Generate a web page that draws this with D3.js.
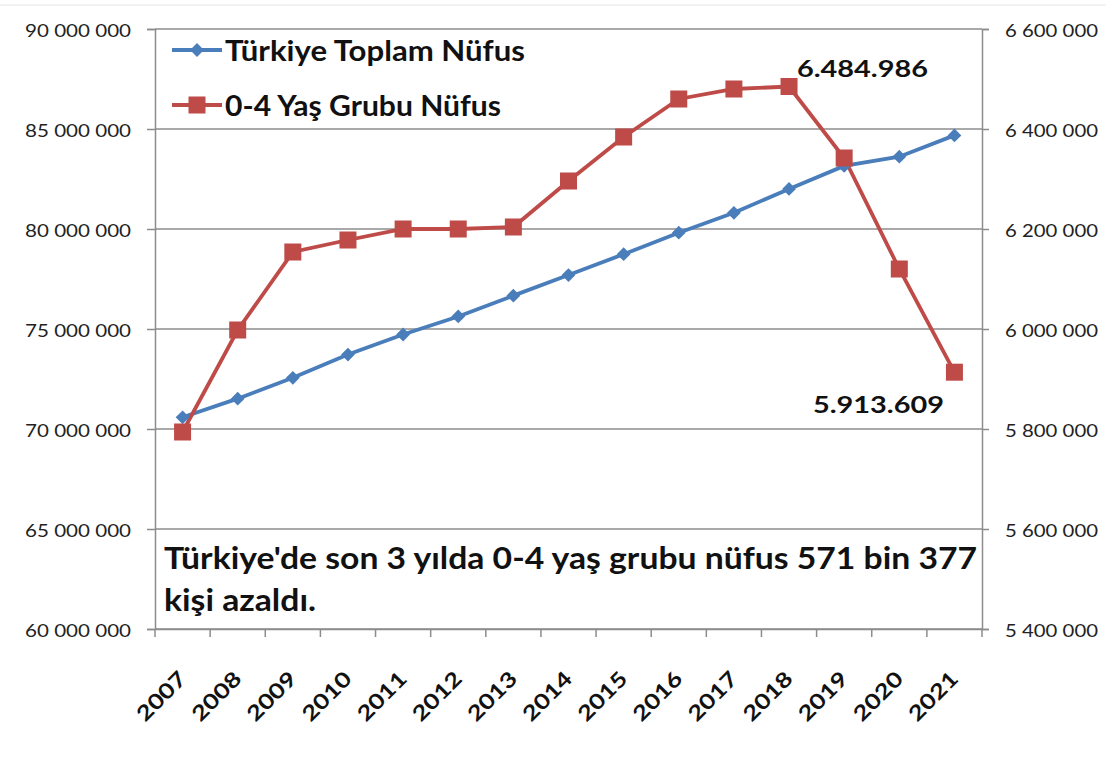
<!DOCTYPE html>
<html>
<head>
<meta charset="utf-8">
<script src="https://cdn.jsdelivr.net/npm/d3@7"></script>
<style>
  body { margin: 0; background: #fff; }
  svg { display: block; }
</style>
</head>
<body>
<div id="chart"></div>
<script>
// --- DATA ---
const years = ["2007","2008","2009","2010","2011","2012","2013","2014","2015","2016","2017","2018","2019","2020","2021"];
const totalPop = [70586256, 71517100, 72561312, 73722988, 74724269, 75627384, 76667864, 77695904, 78741053, 79814871, 80810525, 82003882, 83154997, 83614362, 84680273];
const childPop = [5794000, 5998000, 6154000, 6178000, 6200000, 6200000, 6204000, 6296000, 6384000, 6460000, 6480000, 6484986, 6342000, 6120000, 5913609];
const leftTicks = [60000000, 65000000, 70000000, 75000000, 80000000, 85000000, 90000000];
const rightTicks = [5400000, 5600000, 5800000, 6000000, 6200000, 6400000, 6600000];
const seriesNames = ["Türkiye Toplam Nüfus", "0-4 Yaş Grubu Nüfus"];

// --- CONFIG ---
const WIDTH = 1106, HEIGHT = 767;
const MARGIN = { top: 29, right: 124, bottom: 138, left: 155 };
const BLUE = "#4a7ebb", RED = "#be4b48";
const FONT = "Lato, 'Open Sans', sans-serif";
const GRID = "#8c8c8c";

const svg = d3.select("#chart").append("svg")
  .attr("width", WIDTH).attr("height", HEIGHT)
  .style("font-family", FONT);

// faint border line of the original picture
svg.append("line").attr("x1", 0).attr("x2", WIDTH).attr("y1", 5).attr("y2", 5)
  .attr("stroke", "#e6e6e6").attr("stroke-width", 1);

const x = d3.scaleBand().domain(years)
  .range([MARGIN.left, WIDTH - MARGIN.right]);
const yL = d3.scaleLinear().domain([60000000, 90000000])
  .range([HEIGHT - MARGIN.bottom, MARGIN.top]);
const yR = d3.scaleLinear().domain([5400000, 6600000])
  .range([HEIGHT - MARGIN.bottom, MARGIN.top]);

const fmt = v => d3.format(",")(v).replace(/,/g, " ");

// the source picture is stretched sideways, so fit text widths
function fit(sel, len) {
  sel.attr("textLength", len).attr("lengthAdjust", "spacingAndGlyphs");
}

// gridlines
svg.append("g")
  .selectAll("line").data(leftTicks).join("line")
  .attr("x1", MARGIN.left).attr("x2", WIDTH - MARGIN.right)
  .attr("y1", d => yL(d)).attr("y2", d => yL(d))
  .attr("stroke", GRID).attr("stroke-width", 1.5);

// left axis
const gL = svg.append("g")
  .attr("transform", `translate(${MARGIN.left},0)`)
  .call(d3.axisLeft(yL).tickValues(leftTicks).tickFormat(fmt).tickSize(8).tickPadding(16));
// right axis
const gR = svg.append("g")
  .attr("transform", `translate(${WIDTH - MARGIN.right},0)`)
  .call(d3.axisRight(yR).tickValues(rightTicks).tickFormat(fmt).tickSize(7).tickPadding(16));
// bottom axis
const gB = svg.append("g")
  .attr("transform", `translate(0,${HEIGHT - MARGIN.bottom})`)
  .call(d3.axisBottom(x).tickSize(0).tickPadding(0));

[gL, gR, gB].forEach(g => {
  g.select(".domain").attr("stroke", GRID).attr("stroke-width", 1.5);
  g.selectAll(".tick line").attr("stroke", GRID).attr("stroke-width", 1.5);
});
[gL, gR].forEach(g => g.selectAll("text")
  .attr("font-size", 17).attr("fill", "#222").attr("dy", "0.45em")
  .style("font-family", FONT));
fit(gL.selectAll("text"), 106);
fit(gR.selectAll("text"), 93);

gB.selectAll(".tick text")
  .attr("font-size", 21).attr("font-weight", "bold").attr("fill", "#111")
  .style("font-family", FONT)
  .attr("text-anchor", "end")
  .attr("transform", "translate(0,46) rotate(-45)")
  .attr("dy", "0.35em");
fit(gB.selectAll(".tick text"), 60);

// boundary ticks on x axis
const bounds = years.map(d => x(d)).concat([x(years[years.length - 1]) + x.bandwidth()]);
gB.selectAll(".bnd").data(bounds).join("line")
  .attr("x1", d => d).attr("x2", d => d).attr("y1", 0).attr("y2", 8)
  .attr("stroke", GRID).attr("stroke-width", 1.5);

const cx = d => x(d) + x.bandwidth() / 2;

// lines
const lineBlue = d3.line().x((d, i) => cx(years[i])).y(d => yL(d));
const lineRed = d3.line().x((d, i) => cx(years[i])).y(d => yR(d));

svg.append("path").datum(totalPop)
  .attr("d", lineBlue).attr("fill", "none")
  .attr("stroke", BLUE).attr("stroke-width", 3.8);
svg.append("path").datum(childPop)
  .attr("d", lineRed).attr("fill", "none")
  .attr("stroke", RED).attr("stroke-width", 3.8);

const diamond = d3.symbol().type(d3.symbolSquare).size(95);
svg.append("g").selectAll("path").data(totalPop).join("path")
  .attr("d", diamond())
  .attr("transform", (d, i) => `translate(${cx(years[i])},${yL(d)}) rotate(45)`)
  .attr("fill", BLUE);
svg.append("g").selectAll("rect").data(childPop).join("rect")
  .attr("x", (d, i) => cx(years[i]) - 8.5).attr("y", d => yR(d) - 8.5)
  .attr("width", 17).attr("height", 17)
  .attr("fill", RED);

// legend
const legend = svg.append("g");
const legendRows = [
  { color: BLUE, y: 50, mark: "diamond", len: 300 },
  { color: RED, y: 105, mark: "square", len: 276 }
];
legendRows.forEach((r, i) => {
  legend.append("line").attr("x1", 172).attr("x2", 222).attr("y1", r.y).attr("y2", r.y)
    .attr("stroke", r.color).attr("stroke-width", 3.8);
  if (r.mark === "diamond") {
    legend.append("path").attr("d", diamond())
      .attr("transform", `translate(197,${r.y}) rotate(45)`).attr("fill", r.color);
  } else {
    legend.append("rect").attr("x", 188.5).attr("y", r.y - 8.5).attr("width", 17).attr("height", 17).attr("fill", r.color);
  }
  legend.append("text").attr("x", 225).attr("y", r.y + 11)
    .attr("font-size", 29).attr("font-weight", "bold").attr("fill", "#111")
    .text(seriesNames[i])
    .call(fit, r.len);
});

// annotations
svg.append("text").attr("x", 797).attr("y", 77)
  .attr("font-size", 22).attr("font-weight", "bold").attr("fill", "#111")
  .text("6.484.986").call(fit, 131);
svg.append("text").attr("x", 813).attr("y", 413)
  .attr("font-size", 22).attr("font-weight", "bold").attr("fill", "#111")
  .text("5.913.609").call(fit, 131);

svg.append("text").attr("x", 164).attr("y", 569)
  .attr("font-size", 30).attr("font-weight", "bold").attr("fill", "#111")
  .text("Türkiye'de son 3 yılda 0-4 yaş grubu nüfus 571 bin 377")
  .call(fit, 813);
svg.append("text").attr("x", 164).attr("y", 611)
  .attr("font-size", 30).attr("font-weight", "bold").attr("fill", "#111")
  .text("kişi azaldı.")
  .call(fit, 152);
</script>
</body>
</html>
